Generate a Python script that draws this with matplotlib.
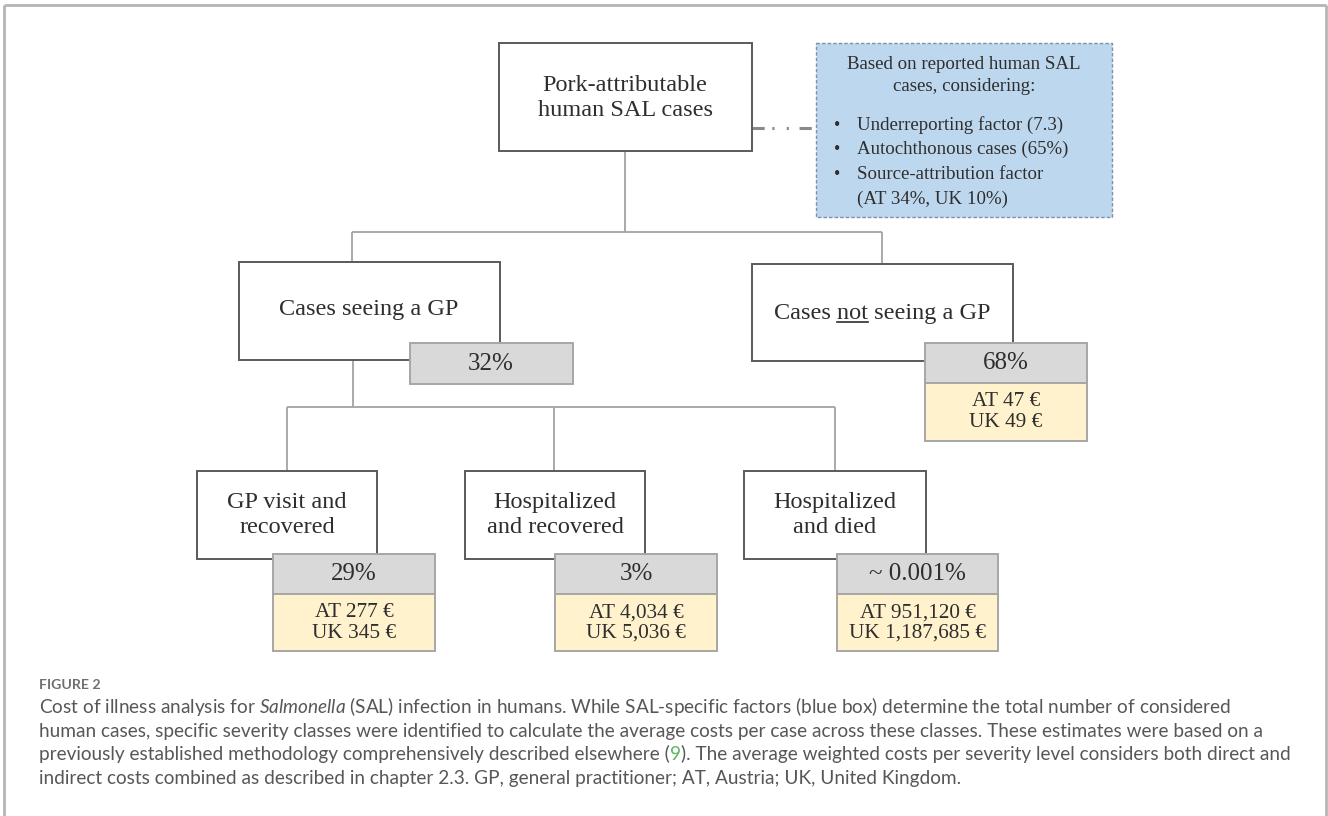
import matplotlib
matplotlib.use("Agg")
import matplotlib.pyplot as plt
from matplotlib.patches import Rectangle

W, H = 1328, 816

# ---- content ----
top_label = "Pork-attributable\nhuman SAL cases"
factor_head = "Based on reported human SAL\ncases, considering:"
factor_items = ["Underreporting factor (7.3)",
                "Autochthonous cases (65%)",
                "Source-attribution factor"]
factor_tail = "(AT 34%, UK 10%)"

level1_labels = ["Cases seeing a GP", "Cases not seeing a GP"]
level1_share = ["32%", "68%"]
not_gp_cost = ["AT 47 €", "UK 49 €"]

level2_labels = ["GP visit and\nrecovered", "Hospitalized\nand recovered", "Hospitalized\nand died"]
level2_share = ["29%", "3%", "~ 0.001%"]
cost_at = ["AT 277 €", "AT 4,034 €", "AT 951,120 €"]
cost_uk = ["UK 345 €", "UK 5,036 €", "UK 1,187,685 €"]

fig_label = "FIGURE 2"
caption = [
    [("Cost of illness analysis for $\\mathit{Salmonella}$ (SAL) infection in humans. While SAL-specific "
      "factors (blue box) determine the total number of considered", None)],
    [("human cases, specific severity classes were identified to calculate the average costs per case "
      "across these classes. These estimates were based on a", None)],
    [("previously established methodology comprehensively described elsewhere (", None), ("9", "#5cb85c"),
     ("). The average weighted costs per severity level considers both direct and", None)],
    [("indirect costs combined as described in chapter 2.3. GP, general practitioner; AT, Austria; "
      "UK, United Kingdom.", None)],
]

# ---- style ----
SERIF = "Liberation Serif"
SANS = "Lato"
TXT = "#2e2e2e"
EDGE = "#5a5a5a"
LINE = "#a3a3a3"
GRAY = "#d9d9d9"
BEIGE = "#fff2cc"
BLUE = "#bdd7ee"
plt.rcParams["mathtext.fontset"] = "custom"
plt.rcParams["mathtext.rm"] = SANS
plt.rcParams["mathtext.it"] = SANS + ":italic"

fig = plt.figure(figsize=(W / 100, H / 100), dpi=100)
ax = fig.add_axes([0, 0, 1, 1])
ax.set_xlim(0, W)
ax.set_ylim(H, 0)
ax.axis("off")


def box(x0, y0, x1, y1, fc="white", ec=EDGE, lw=1.4, ls="-", z=2):
    ax.add_patch(Rectangle((x0, y0), x1 - x0, y1 - y0, facecolor=fc, edgecolor=ec,
                           linewidth=lw, linestyle=ls, zorder=z))


def line(xs, ys, **kw):
    kw.setdefault("color", LINE)
    kw.setdefault("lw", 1.3)
    ax.plot(xs, ys, zorder=1, solid_capstyle="butt", **kw)


def label(x, y, s, size=17.5, ha="center", va="center", ls=1.25):
    return ax.text(x, y, s, ha=ha, va=va, fontsize=size,
                   family=SERIF, color=TXT, linespacing=ls, zorder=5)


# outer frame
line([4, 4], [H, 5], color="#b5b5b5", lw=2)
line([4, 1326], [5, 5], color="#b5b5b5", lw=2)
line([1326, 1326], [5, H], color="#b5b5b5", lw=2)

# connectors
line([625, 625], [151, 232])
line([352, 882], [232, 232])
line([352, 352], [232, 262])
line([882, 882], [232, 264])
line([353, 353], [360, 407])
line([287, 835], [407, 407])
l2_x = [287, 554, 835]
for x in l2_x:
    line([x, x], [407, 471])
line([752, 816], [128, 128], color="#8a8a8a", lw=2.2, linestyle=(0, (4, 2.5, 0.7, 4, 0.7, 3.5)))

# top node
box(499, 43, 752, 151)
label(625, 98, top_label)

# factor box
box(816, 43, 1112, 217, fc=BLUE, ec="#7f8fa6", lw=1.0, ls=(0, (2.5, 1.5)))
label(964, 75.5, factor_head, size=13.6, ls=1.33)
for i, item in enumerate(factor_items):
    yy = 125 + i * 24.7
    label(834, yy, "•", size=13, ha="left")
    label(857, yy, item, size=13.6, ha="left")
label(857, 125 + 3 * 24.7, factor_tail, size=13.6, ha="left")

# level 1
box(239, 262, 500, 360)
label(369, 310, level1_labels[0])
box(752, 264, 1013, 361)
t = label(882, 313, level1_labels[1])

fig.canvas.draw()
r = fig.canvas.get_renderer()
full_w = t.get_window_extent(r).width
tmp = label(0, 0, "Cases not")
w_cn = tmp.get_window_extent(r).width
tmp.remove()
tmp = label(0, 0, "not")
w_n = tmp.get_window_extent(r).width
tmp.remove()
ux0 = 882 - full_w / 2 + w_cn - w_n
ax.plot([ux0, ux0 + w_n], [322, 322], color=TXT, lw=1.2, zorder=6)

box(410, 343, 573, 384, fc=GRAY, ec="#a6a6a6", z=3)
label(491, 364, level1_share[0], size=18)
box(925, 343, 1087, 383, fc=GRAY, ec="#a6a6a6", z=3)
box(925, 383, 1087, 441, fc=BEIGE, ec="#a6a6a6", z=3)
label(1006, 363, level1_share[1], size=18)
label(1006, 412, "\n".join(not_gp_cost), size=15.3, ls=1.1)

# level 2
l2_boxes = [(197, 377), (465, 645), (744, 926)]
sh_boxes = [(273, 435), (555, 717), (837, 998)]
for i in range(3):
    x0, x1 = l2_boxes[i]
    box(x0, 471, x1, 559)
    label((x0 + x1) / 2, 515, level2_labels[i])
    s0, s1 = sh_boxes[i]
    box(s0, 554, s1, 594, fc=GRAY, ec="#a6a6a6", z=3)
    box(s0, 594, s1, 651, fc=BEIGE, ec="#a6a6a6", z=3)
    label((s0 + s1) / 2, 574, level2_share[i], size=18)
    label((s0 + s1) / 2, 623, cost_at[i] + "\n" + cost_uk[i], size=15.3, ls=1.1)

# caption
ax.text(39, 685, fig_label, fontsize=10.2, family=SANS, weight="bold", color="#707070",
        va="center", ha="left")
fig.canvas.draw()
r = fig.canvas.get_renderer()
for i, runs in enumerate(caption):
    x = 39
    y = 713 + i * 23.7
    for s, c in runs:
        tt = ax.text(x, y, s, fontsize=13.7, family=SANS, color=c or "#575757", va="baseline", ha="left")
        x += tt.get_window_extent(r).width

fig.savefig("out.png", dpi=100)
